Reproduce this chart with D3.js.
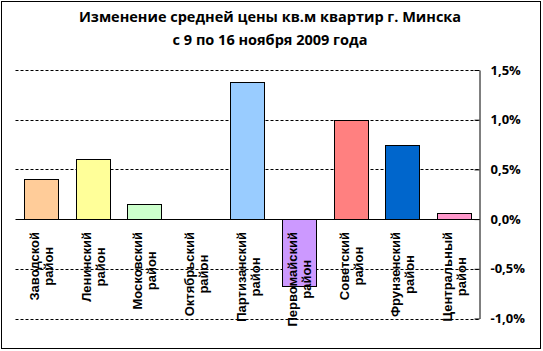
<!DOCTYPE html>
<html>
<head>
<meta charset="utf-8">
<script src="https://cdn.jsdelivr.net/npm/d3@7"></script>
<style>
  body { margin: 0; background: #fff; }
  svg { display: block; font-family: "Liberation Sans", Arial, sans-serif; }
</style>
</head>
<body>
<div id="chart"></div>
<script>
const districts = [
    ['Заводской', 'район'],
    ['Ленинский', 'район'],
    ['Московский', 'район'],
    ['Октябрьский', 'район'],
    ['Партизанский', 'район'],
    ['Первомайский', 'район'],
    ['Советский', 'район'],
    ['Фрунзенский', 'район'],
    ['Центральный', 'район']
];
const changes = [0.40, 0.60, 0.15, 0.0, 1.38, -0.67, 1.0, 0.75, 0.06];
const barColors = ['#FFCC99', '#FFFF99', '#CCFFCC', '#CCFFFF', '#99CCFF', '#CC99FF', '#FF8080', '#0066CC', '#FF99CC'];
const yTicks = [1.5, 1.0, 0.5, 0.0, -0.5, -1.0];
const titleLines = ['Изменение средней цены кв.м квартир г. Минска', 'с 9 по 16 ноября 2009 года'];

const width = 543, height = 351;
const plot = { left: 15.5, right: 479.5, top: 70, bottom: 318.5 };

const svg = d3.select('#chart')
    .append('svg')
    .attr('width', width)
    .attr('height', height);

// outer frame
svg.append('rect')
    .attr('x', 1.5).attr('y', 1.5)
    .attr('width', 539).attr('height', 347)
    .attr('fill', '#fff')
    .attr('stroke', '#000')
    .attr('stroke-width', 1);

// title
svg.append('g')
    .selectAll('text')
    .data(titleLines)
    .join('text')
    .attr('x', 270)
    .attr('y', (d, i) => 22 + i * 23)
    .attr('text-anchor', 'middle')
    .style('font-family', '"Open Sans", "Noto Sans", sans-serif')
    .style('font-weight', 'bold')
    .style('font-size', '14.5px')
    .text(d => d);

const x = d3.scaleBand()
    .domain(districts.map(d => d[0]))
    .range([plot.left, plot.right])
    .paddingInner(0.34)
    .paddingOuter(0.17);

const y = d3.scaleLinear()
    .domain([-1.0, 1.5])
    .range([plot.bottom, plot.top]);

// gridlines
svg.append('g')
    .selectAll('line')
    .data(yTicks.filter(t => t !== 0))
    .join('line')
    .attr('x1', plot.left)
    .attr('x2', plot.right)
    .attr('y1', d => Math.round(y(d)) + 0.5)
    .attr('y2', d => Math.round(y(d)) + 0.5)
    .attr('stroke', '#000')
    .attr('stroke-dasharray', '3,2');

// bars
svg.append('g')
    .selectAll('rect')
    .data(changes)
    .join('rect')
    .attr('x', (d, i) => Math.round(x(districts[i][0])) + 0.5)
    .attr('y', d => Math.round(y(Math.max(0, d))) + 0.5)
    .attr('width', Math.round(x.bandwidth()))
    .attr('height', d => Math.abs(Math.round(y(d)) - Math.round(y(0))))
    .attr('fill', (d, i) => barColors[i])
    .attr('stroke', '#000')
    .attr('stroke-width', 1)
    .attr('display', d => d === 0 ? 'none' : null);

// zero line
svg.append('line')
    .attr('x1', plot.left)
    .attr('x2', plot.right)
    .attr('y1', Math.round(y(0)) + 0.5)
    .attr('y2', Math.round(y(0)) + 0.5)
    .attr('stroke', '#000');

// right axis
const axis = svg.append('g')
    .attr('transform', `translate(${plot.right},0)`)
    .call(d3.axisRight(y)
        .tickValues(yTicks)
        .tickSize(0)
        .tickPadding(11)
        .tickFormat(d => d3.format('.1f')(d).replace('.', ',').replace('−', '-') + '%'));

axis.select('.domain').attr('stroke', '#000');
axis.selectAll('.tick').append('line')
    .attr('x1', -5).attr('x2', 0)
    .attr('stroke', '#000');
axis.selectAll('text')
    .attr('fill', '#000')
    .style('font-family', '"Open Sans", "Noto Sans", sans-serif')
    .style('font-weight', 'bold')
    .style('font-size', '13px');

// category labels, rotated, top aligned to the longest line
const labelTop = 232;
const lineGap = 14;
const labels = svg.append('g');
districts.forEach((lines, i) => {
    const cx = x(lines[0]) + x.bandwidth() / 2;
    const g = labels.append('g');
    const texts = g.selectAll('text')
        .data(lines)
        .join('text')
        .attr('text-anchor', 'middle')
        .style('font-weight', 'bold')
        .style('font-size', '13px')
        .text(d => d);
    const maxW = d3.max(texts.nodes(), n => n.getComputedTextLength());
    const cy = labelTop + maxW / 2;
    texts.attr('transform', (d, j) => {
        const bx = cx + 5 + (j - (lines.length - 1) / 2) * lineGap;
        return `translate(${bx},${cy}) rotate(-90)`;
    });
});
</script>
</body>
</html>
